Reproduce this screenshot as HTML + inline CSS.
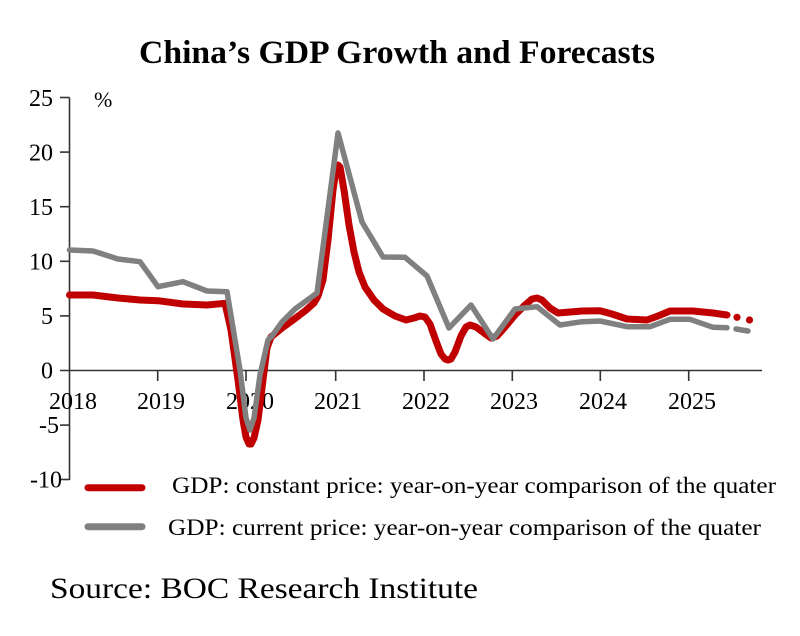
<!DOCTYPE html>
<html>
<head>
<meta charset="utf-8">
<style>
  html, body { margin: 0; padding: 0; background: #ffffff; }
  svg { display: block; }
  text { font-family: "Liberation Serif", "Times New Roman", serif; fill: #000; }
</style>
</head>
<body>
<svg width="800" height="636" viewBox="0 0 800 636" xmlns="http://www.w3.org/2000/svg">
  <rect width="800" height="636" fill="#ffffff"/>

  <!-- Title -->
  <text x="139" y="63" font-size="33" font-weight="bold" textLength="516" lengthAdjust="spacingAndGlyphs">China’s GDP Growth and Forecasts</text>

  <!-- unit -->
  <text x="94" y="107" font-size="22">%</text>

  <!-- axes -->
  <g stroke="#333" stroke-width="1.6" fill="none">
    <line x1="69.5" y1="97.5" x2="69.5" y2="480"/>
    <line x1="60" y1="370.5" x2="762" y2="370.5"/>
    <!-- y ticks -->
    <line x1="60" y1="97.5" x2="69.5" y2="97.5"/>
    <line x1="60" y1="152.1" x2="69.5" y2="152.1"/>
    <line x1="60" y1="206.7" x2="69.5" y2="206.7"/>
    <line x1="60" y1="261.3" x2="69.5" y2="261.3"/>
    <line x1="60" y1="315.9" x2="69.5" y2="315.9"/>
    <line x1="60" y1="425.1" x2="69.5" y2="425.1"/>
    <line x1="60" y1="479.5" x2="69.5" y2="479.5"/>
    <!-- x ticks -->
    <line x1="157.7" y1="370.5" x2="157.7" y2="381"/>
    <line x1="246" y1="370.5" x2="246" y2="381"/>
    <line x1="335.7" y1="370.5" x2="335.7" y2="381"/>
    <line x1="424" y1="370.5" x2="424" y2="381"/>
    <line x1="512.3" y1="370.5" x2="512.3" y2="381"/>
    <line x1="600.3" y1="370.5" x2="600.3" y2="381"/>
    <line x1="688.7" y1="370.5" x2="688.7" y2="381"/>
  </g>

  <!-- y labels -->
  <g font-size="24" text-anchor="end">
    <text x="53" y="106">25</text>
    <text x="53" y="160.5">20</text>
    <text x="53" y="215">15</text>
    <text x="53" y="269.5">10</text>
    <text x="53" y="324">5</text>
    <text x="53" y="378.5">0</text>
    <text x="59" y="433">-5</text>
    <text x="62" y="487.5">-10</text>
  </g>

  <!-- x labels -->
  <g font-size="24" text-anchor="middle">
    <text x="73" y="409">2018</text>
    <text x="161" y="409">2019</text>
    <text x="250" y="409">2020</text>
    <text x="338" y="409">2021</text>
    <text x="426" y="409">2022</text>
    <text x="514" y="409">2023</text>
    <text x="603" y="409">2024</text>
    <text x="692" y="409">2025</text>
  </g>

  <!-- Red series: constant price -->
  <polyline fill="none" stroke="#c00000" stroke-width="7" stroke-linejoin="round" stroke-linecap="round"
    points="69.5,295 93,295 118,298 140,300 158,300.7 183,304 207,305 225,303.3
            231,330 238,380 243,420 246,437 249,444 251,444 254,438 258,420 263,380 267,348 271,337
            282,328 293,320 305,311 314,303 318,296 323,280 328,240 333,190 336,170 338,165 340,167
            344,190 349,225 354,252 359,272 365,287 374,300 383,309 395,316 406,320 414,318 420,316 425,317
            430,324 436,341 441,354 445,359 448,360 451,359 455,352 461,336 466,327 470,325
            476,327 484,333 491,338 497,336 505,327 515,315 525,305 532,299 537,298 542,300
            550,308 558,313 570,312 582,311 600,310.7 612,314 627,319 647,320 658,316 670,311
            693,311 713,313 727,315"/>
  <circle cx="737" cy="317.3" r="3.6" fill="#c00000"/>
  <circle cx="749.5" cy="320" r="3.6" fill="#c00000"/>

  <!-- Gray series: current price -->
  <polyline fill="none" stroke="#808080" stroke-width="5.5" stroke-linejoin="round" stroke-linecap="round"
    points="69.5,250 93,251 118,259 140,261.7 158,286.7 183,281.7 207,291 227,291.7
            240,370 246,418 250,430 254,418 260,375 268,340 272,336
            282,322 295,309 317,293 338,133 362,222 383,257 405,257.3 427,276 449,328
            471,305 493,339 515,309 537,306.7 560,325 582,321.7 600,321 627,326.7 650,326.7
            670,319.3 690,319.3 713,327.3 727,327.7"/>
  <line x1="736" y1="329" x2="748" y2="331" stroke="#808080" stroke-width="5.5" stroke-linecap="round"/>

  <!-- Legend -->
  <line x1="88" y1="487.7" x2="142" y2="487.7" stroke="#c00000" stroke-width="7" stroke-linecap="round"/>
  <line x1="88" y1="526.7" x2="142" y2="526.7" stroke="#808080" stroke-width="7" stroke-linecap="round"/>
  <text x="172" y="493" font-size="23" textLength="604" lengthAdjust="spacingAndGlyphs">GDP: constant price: year-on-year comparison of the quater</text>
  <text x="168" y="535" font-size="23" textLength="593" lengthAdjust="spacingAndGlyphs">GDP: current price: year-on-year comparison of the quater</text>

  <!-- Source -->
  <text x="50" y="598" font-size="30" textLength="428" lengthAdjust="spacingAndGlyphs">Source: BOC Research Institute</text>
</svg>
</body>
</html>
